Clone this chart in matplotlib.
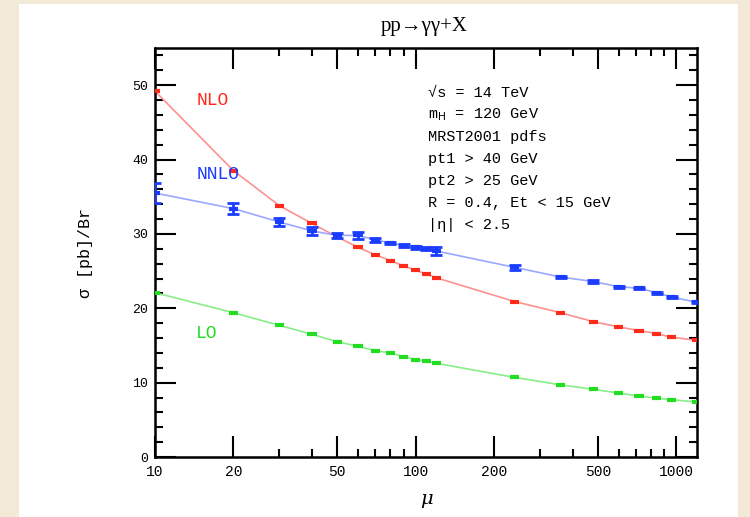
import numpy as np
import matplotlib.pyplot as plt
from matplotlib.patches import Rectangle
from matplotlib.ticker import FixedLocator, NullFormatter, MultipleLocator

# scale mu (GeV)
mu = [10, 20, 30, 40, 50, 60, 70, 80, 90, 100, 110, 120,
      240, 360, 480, 600, 720, 840, 960, 1200]

# sigma [pb]/Br
lo = [22.1, 19.4, 17.7, 16.5, 15.5, 14.9, 14.3, 14.0, 13.5, 13.1, 12.9, 12.6,
      10.7, 9.7, 9.1, 8.6, 8.2, 7.9, 7.7, 7.4]
nlo = [49.2, 38.5, 33.8, 31.4, 29.6, 28.2, 27.2, 26.4, 25.7, 25.1, 24.6, 24.1,
       20.9, 19.4, 18.2, 17.5, 17.0, 16.6, 16.1, 15.7]
nnlo = [35.5, 33.4, 31.6, 30.4, 29.8, 29.8, 29.2, 28.8, 28.4, 28.2, 28.0, 27.7,
        25.5, 24.2, 23.6, 22.9, 22.7, 22.1, 21.5, 20.8]
nnlo_err = [1.4, 0.7, 0.6, 0.5, 0.3, 0.5, 0.3, 0.15, 0.2, 0.2, 0.2, 0.5,
            0.3, 0.15, 0.15, 0.15, 0.15, 0.15, 0.15, 0.15]

info = ["\u221as = 14 TeV", "m$_{\\rm H}$ = 120 GeV", "MRST2001 pdfs",
        "pt1 > 40 GeV", "pt2 > 25 GeV", "R = 0.4, Et < 15 GeV",
        "|\u03b7| < 2.5"]

fig = plt.figure(figsize=(7.5, 5.17), dpi=100, facecolor="#f2ead6")
fig.patches.append(Rectangle((19/750, 0), 719/750, 513/517, transform=fig.transFigure,
                             facecolor="white", edgecolor="none", zorder=-5))
ax = fig.add_axes([155/750, 60/517, 542/750, 409/517])
ax.set_facecolor("white")

x = np.array(mu, dtype=float)
xl = x - x / 10**0.018
xr = x * 10**0.018 - x

col = {"lo": "#22dd22", "nlo": "#ff2a1a", "nnlo": "#1a3cff"}

# thin light curves through the points
ax.plot(x, lo, color="#88ee88", lw=1.2, zorder=2)
ax.plot(x, nlo, color="#ff9090", lw=1.2, zorder=2)
ax.plot(x, nnlo, color="#9aa8ff", lw=1.2, zorder=2)

ax.errorbar(x, lo, xerr=[xl, xr], fmt="none", ecolor=col["lo"], elinewidth=3, zorder=3)
ax.errorbar(x, nlo, xerr=[xl, xr], fmt="none", ecolor=col["nlo"], elinewidth=3, zorder=3)
ax.errorbar(x, nnlo, xerr=[xl, xr], fmt="none", ecolor=col["nnlo"], elinewidth=3, zorder=3)
ax.errorbar(x, nnlo, yerr=nnlo_err, fmt="none", ecolor=col["nnlo"], elinewidth=2,
            capsize=4, capthick=2, zorder=3)

ax.set_xscale("log")
ax.set_xlim(10, 1200)
ax.set_ylim(0, 55)

ax.xaxis.set_major_locator(FixedLocator([10, 20, 50, 100, 200, 500, 1000]))
ax.xaxis.set_minor_locator(FixedLocator([30, 40, 60, 70, 80, 90, 300, 400, 600, 700, 800, 900]))
ax.xaxis.set_minor_formatter(NullFormatter())
ax.set_xticklabels(["10", "20", "50", "100", "200", "500", "1000"])
ax.yaxis.set_major_locator(MultipleLocator(10))
ax.yaxis.set_minor_locator(MultipleLocator(2))

ax.tick_params(which="both", direction="in", top=True, right=True, width=1.5,
               colors="black")
ax.tick_params(which="major", length=15)
ax.tick_params(which="minor", length=6)
ax.tick_params(axis="x", pad=6, labelsize=10.5)
ax.tick_params(axis="y", pad=5, labelsize=9.5)
for lab in ax.get_xticklabels() + ax.get_yticklabels():
    lab.set_family("Liberation Mono")
for s in ax.spines.values():
    s.set_linewidth(1.8)

ax.set_xlabel("\u03bc", fontsize=14, family="DejaVu Serif", style="italic", labelpad=8)
ax.set_ylabel("\u03c3 [pb]/Br", fontsize=12, family="Liberation Mono", labelpad=28)
fig.text(424/750, 1 - 26/517, "pp\u2192\u03b3\u03b3+X", ha="center", va="center",
         fontsize=15, family="Liberation Serif")

ax.text(14.4, 48, "NLO", color=col["nlo"], fontsize=13, family="Liberation Mono",
        va="center", zorder=5)
ax.text(14.4, 38, "NNLO", color=col["nnlo"], fontsize=13, family="Liberation Mono",
        va="center", zorder=5)
ax.text(14.4, 16.6, "LO", color=col["lo"], fontsize=13, family="Liberation Mono",
        va="center", zorder=5)

for i, line in enumerate(info):
    ax.text(0.503, 0.89 - i * 0.0538, line, transform=ax.transAxes, fontsize=11,
            family="Liberation Mono", va="center", ha="left")

fig.savefig("out.png", dpi=100, facecolor=fig.get_facecolor())
